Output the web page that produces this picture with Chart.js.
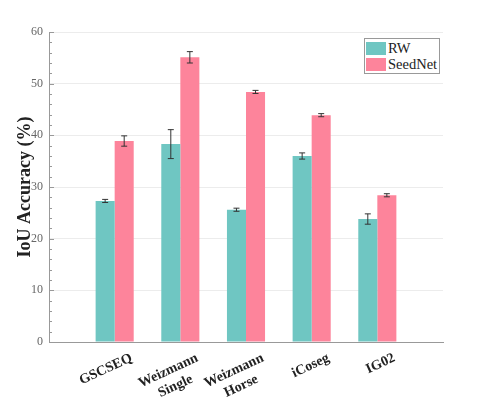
<!DOCTYPE html>
<html>
<head>
<meta charset="utf-8">
<script src="https://cdn.jsdelivr.net/npm/chart.js@4"></script>
<style>
  body { margin: 0; background: #fff; }
  #wrap { position: relative; width: 484px; height: 405px; }
  #legend {
    position: absolute; left: 364px; top: 38px;
    border: 1px solid #999; background: #fff;
    padding: 1px 2px 1px 1px;
    font-family: "Liberation Serif", serif; font-size: 14.5px; color: #222;
  }
  #legend div { display: flex; align-items: center; height: 16px; }
  #legend span.sw { display: inline-block; width: 20px; height: 13px; margin-right: 2px; }
</style>
</head>
<body>
<div id="wrap">
  <canvas id="chart" width="484" height="405"></canvas>
  <div id="legend"></div>
</div>
<script>
// Data
const categories = ['GSCSEQ', ['Weizmann', 'Single'], ['Weizmann', 'Horse'], 'iCoseg', 'IG02'];
const rwValues = [27.3, 38.3, 25.6, 36.0, 23.8];
const rwErrors = [0.3, 2.8, 0.3, 0.6, 1.0];
const seedNetValues = [38.9, 55.1, 48.4, 43.9, 28.4];
const seedNetErrors = [1.0, 1.1, 0.3, 0.3, 0.3];
const yTicks = [0, 10, 20, 30, 40, 50, 60];

const rwColor = '#6fc6c2';
const seedColor = '#fd849b';

// pad with an empty slot on each side so groups sit at 1/6 ... 5/6 of the axis
const pad = arr => [null, ...arr, null];
const labels = ['', ...categories, ''];

const errorBars = {
  id: 'errorBars',
  afterDatasetsDraw(chart) {
    const ctx = chart.ctx;
    const y = chart.scales.y;
    chart.data.datasets.forEach((ds, i) => {
      const meta = chart.getDatasetMeta(i);
      meta.data.forEach((bar, j) => {
        const err = ds.errors[j];
        const v = ds.data[j];
        if (err == null || v == null) return;
        const top = y.getPixelForValue(v + err);
        const bot = y.getPixelForValue(v - err);
        ctx.save();
        ctx.strokeStyle = '#333';
        ctx.lineWidth = 1;
        ctx.beginPath();
        ctx.moveTo(bar.x, top); ctx.lineTo(bar.x, bot);
        ctx.moveTo(bar.x - 3, top); ctx.lineTo(bar.x + 3, top);
        ctx.moveTo(bar.x - 3, bot); ctx.lineTo(bar.x + 3, bot);
        ctx.stroke();
        ctx.restore();
      });
    });
  }
};

// inward tick marks on the y axis (major every 10, minor every 2)
const yTickMarks = {
  id: 'yTickMarks',
  afterDraw(chart) {
    const ctx = chart.ctx;
    const y = chart.scales.y;
    const left = chart.chartArea.left;
    ctx.save();
    ctx.strokeStyle = '#999';
    ctx.lineWidth = 1;
    ctx.beginPath();
    y.ticks.forEach(t => {
      const py = Math.round(y.getPixelForValue(t.value)) + 0.5;
      const len = t.value % 10 === 0 ? 5 : 3;
      ctx.moveTo(left, py); ctx.lineTo(left + len, py);
    });
    ctx.stroke();
    ctx.restore();
  }
};

// slanted category labels, lines centred on each other, block anchored top-right
const xLabels = {
  id: 'xLabels',
  afterDraw(chart) {
    const ctx = chart.ctx;
    const x = chart.scales.x;
    ctx.save();
    ctx.font = 'bold 14px "Liberation Serif"';
    ctx.fillStyle = '#222';
    ctx.textBaseline = 'top';
    ctx.textAlign = 'center';
    labels.forEach((lab, i) => {
      if (!lab) return;
      const lines = Array.isArray(lab) ? lab : [lab];
      const w = Math.max(...lines.map(l => ctx.measureText(l).width));
      ctx.save();
      ctx.translate(x.getPixelForTick(i) + 14, x.top + 9);
      ctx.rotate(-25 * Math.PI / 180);
      lines.forEach((l, k) => ctx.fillText(l, -w / 2, k * 17));
      ctx.restore();
    });
    ctx.restore();
  }
};

const chart = new Chart(document.getElementById('chart'), {
  type: 'bar',
  data: {
    labels: labels,
    datasets: [
      { label: 'RW', data: pad(rwValues), errors: pad(rwErrors), backgroundColor: rwColor },
      { label: 'SeedNet', data: pad(seedNetValues), errors: pad(seedNetErrors), backgroundColor: seedColor }
    ]
  },
  options: {
    responsive: false,
    animation: false,
    layout: { padding: { top: 32, right: 41, left: 0, bottom: 0 } },
    plugins: { legend: { display: false }, tooltip: { enabled: false } },
    datasets: { bar: { categoryPercentage: 0.58, barPercentage: 1 } },
    scales: {
      x: {
        offset: false,
        grid: { display: false },
        border: { color: '#999' },
        afterFit: s => { s.height = 63; },
        ticks: { display: false }
      },
      y: {
        min: 0, max: 60,
        afterFit: s => { s.width = 49; },
        border: { color: '#999' },
        grid: {
          drawTicks: false,
          color: ctx => (ctx.tick && ctx.tick.value % 10 === 0 && ctx.tick.value !== 0) ? '#ececec' : 'rgba(0,0,0,0)'
        },
        ticks: {
          stepSize: 2,
          autoSkip: false,
          padding: 6,
          color: '#666',
          font: { family: 'Liberation Serif', size: 12 },
          callback: v => yTicks.includes(v) ? v : ''
        },
        title: {
          display: true,
          text: 'IoU Accuracy (%)',
          color: '#222',
          padding: { top: 15, bottom: 0 },
          font: { family: 'Liberation Serif', size: 18, weight: 'bold' }
        }
      }
    }
  },
  plugins: [errorBars, yTickMarks, xLabels]
});

// legend box
const legend = document.getElementById('legend');
chart.data.datasets.forEach(ds => {
  const row = document.createElement('div');
  row.innerHTML = `<span class="sw" style="background:${ds.backgroundColor}"></span>${ds.label}`;
  legend.appendChild(row);
});
</script>
</body>
</html>
